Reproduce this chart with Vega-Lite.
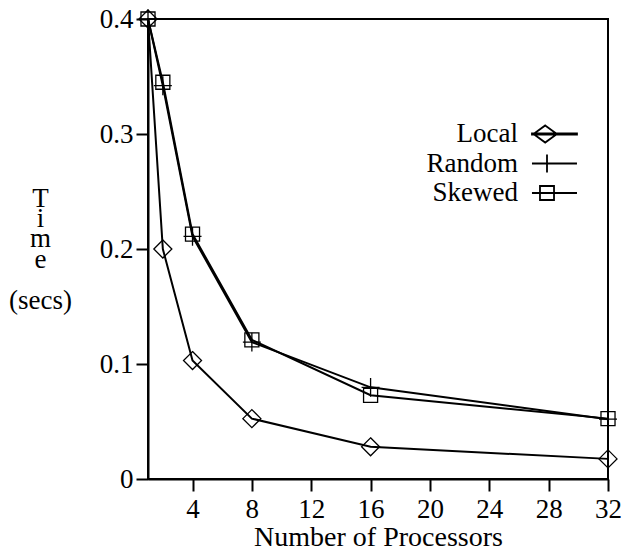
{
  "$schema": "https://vega.github.io/schema/vega-lite/v6.json",
  "width": 460,
  "height": 460,
  "autosize": {"type": "none"},
  "padding": {"left": 148, "top": 19, "right": 15, "bottom": 76},
  "background": "white",
  "data": {
    "values": [
      {"n": 1, "series": "Local", "time": 0.4},
      {"n": 2, "series": "Local", "time": 0.2},
      {"n": 4, "series": "Local", "time": 0.103},
      {"n": 8, "series": "Local", "time": 0.0525},
      {"n": 16, "series": "Local", "time": 0.028},
      {"n": 32, "series": "Local", "time": 0.0175},
      {"n": 1, "series": "Random", "time": 0.4},
      {"n": 2, "series": "Random", "time": 0.342},
      {"n": 4, "series": "Random", "time": 0.211},
      {"n": 8, "series": "Random", "time": 0.119},
      {"n": 16, "series": "Random", "time": 0.0797},
      {"n": 32, "series": "Random", "time": 0.052},
      {"n": 1, "series": "Skewed", "time": 0.4},
      {"n": 2, "series": "Skewed", "time": 0.345},
      {"n": 4, "series": "Skewed", "time": 0.213},
      {"n": 8, "series": "Skewed", "time": 0.121},
      {"n": 16, "series": "Skewed", "time": 0.0728},
      {"n": 32, "series": "Skewed", "time": 0.0525}
    ]
  },
  "encoding": {
    "x": {
      "field": "n",
      "type": "quantitative",
      "scale": {"domain": [1, 32], "nice": false, "zero": false},
      "axis": {
        "values": [4, 8, 12, 16, 20, 24, 28, 32],
        "title": "Number of Processors",
        "labelPadding": 5,
        "labelBaseline": "top",
        "labelFlush": false,
        "titleY": 66,
        "titleBaseline": "alphabetic",
        "titleFontSize": 28
      }
    },
    "y": {
      "field": "time",
      "type": "quantitative",
      "scale": {"domain": [0, 0.4], "nice": false},
      "axis": {
        "values": [0, 0.1, 0.2, 0.3, 0.4],
        "format": "~g",
        "labelPadding": 3,
        "labelFlush": false,
        "title": ["T", "i", "m", "e", "\u200b", "(secs)"],
        "titleAngle": 0,
        "titleAlign": "center",
        "titleBaseline": "alphabetic",
        "titleX": -108,
        "titleY": 187,
        "titleLineHeight": 20.4
      }
    }
  },
  "layer": [
    {
      "mark": {"type": "line", "color": "black", "strokeWidth": 2},
      "encoding": {"detail": {"field": "series"}}
    },
    {
      "mark": {"type": "point", "filled": false, "color": "black", "strokeWidth": 1.3, "size": 324, "opacity": 1},
      "encoding": {
        "shape": {
          "field": "series",
          "type": "nominal",
          "scale": {
            "domain": ["Local", "Random", "Skewed"],
            "range": [
              "M0,-1L1,0L0,1L-1,0Z",
              "M-1,0L1,0M0,-1.05L0,1.05",
              "M-0.78,-0.78L0.78,-0.78L0.78,0.78L-0.78,0.78Z"
            ]
          },
          "legend": null
        }
      }
    },
    {
      "transform": [{"filter": "datum.n > 1000"}],
      "mark": {"type": "point", "filled": false, "color": "black", "strokeWidth": 1.8, "size": 324, "opacity": 1},
      "encoding": {
        "shape": {
          "field": "series",
          "type": "nominal",
          "scale": {
            "domain": ["Local", "Random", "Skewed"],
            "range": [
              "M-1.67,-0.07L3.33,-0.07L3.33,0.07L-1.67,0.07ZM-0.2,-0.95L1.1,0L-0.2,0.95L-1.5,0Z",
              "M-1.67,0L3.33,0M0,-1L0,1",
              "M-1.67,0L3.33,0M-0.78,-0.78L0.78,-0.78L0.78,0.78L-0.78,0.78Z"
            ]
          },
          "legend": {
            "title": null,
            "orient": "none",
            "legendX": 385.5,
            "legendY": 101.5,
            "padding": 0,
            "rowPadding": 1.5,
            "symbolSize": 324,
            "symbolStrokeWidth": 1.8,
            "symbolStrokeColor": "black",
            "symbolOpacity": 1,
            "labelAlign": "right",
            "labelOffset": -42.5,
            "labelFontSize": 27,
            "labelFont": "Liberation Serif",
            "labelColor": "black",
            "labelBaseline": "middle"
          }
        }
      }
    }
  ],
  "resolve": {"scale": {"shape": "independent"}, "legend": {"shape": "independent"}},
  "config": {
    "font": "Liberation Serif",
    "view": {"stroke": "black", "strokeWidth": 2},
    "axis": {
      "grid": false,
      "domainColor": "black",
      "domainWidth": 2,
      "tickColor": "black",
      "tickWidth": 2,
      "tickSize": 12,
      "labelFont": "Liberation Serif",
      "labelFontSize": 27,
      "labelColor": "black",
      "titleFont": "Liberation Serif",
      "titleFontSize": 27,
      "titleFontWeight": "normal",
      "titleColor": "black"
    }
  }
}
